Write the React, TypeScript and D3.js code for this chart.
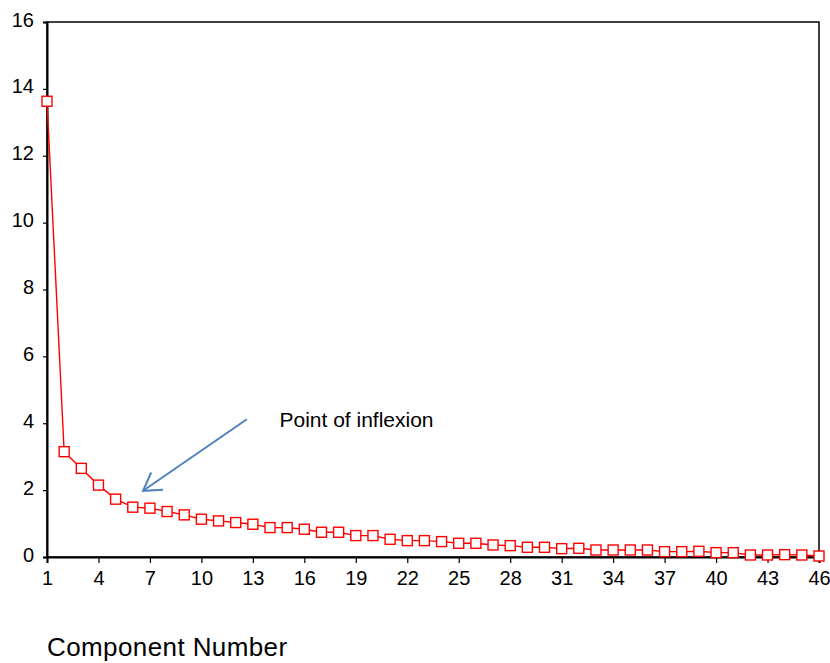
import React, { useRef, useEffect } from "react";
import { select, scaleLinear, axisBottom, axisLeft, line, range } from "d3";

// eigenvalues
const components = range(1, 47);
const eigenvalues = [
  13.63, 3.15, 2.65, 2.15, 1.73, 1.49, 1.46, 1.36, 1.26, 1.13,
  1.08, 1.03, 0.98, 0.88, 0.88, 0.83, 0.74, 0.74, 0.64, 0.64,
  0.53, 0.49, 0.49, 0.46, 0.41, 0.41, 0.36, 0.34, 0.29, 0.29,
  0.25, 0.26, 0.21, 0.21, 0.21, 0.21, 0.16, 0.16, 0.17, 0.13,
  0.13, 0.06, 0.06, 0.07, 0.06, 0.03,
];
const xTicks = [1, 4, 7, 10, 13, 16, 19, 22, 25, 28, 31, 34, 37, 40, 43, 46];
const yTicks = [0, 2, 4, 6, 8, 10, 12, 14, 16];
// arrow from the label down to the elbow, in data units
const arrowFrom = [12.65, 4.12];
const arrowTo = [6.6, 1.98];

function ScreePlot() {
  const svgRef = useRef(null);

  useEffect(() => {
    const svg = select(svgRef.current);
    svg.selectAll("*").remove();

    const width = 830;
    const height = 663;
    const margin = { top: 22, left: 47, right: 11, bottom: 106 };
    const innerWidth = width - margin.left - margin.right;
    const innerHeight = height - margin.top - margin.bottom;
    const font = "Arial, 'Liberation Sans', sans-serif";

    const xScale = scaleLinear().domain([1, 46]).range([0, innerWidth]);
    const yScale = scaleLinear().domain([0, 16]).range([innerHeight, 0]);

    const g = svg
      .append("g")
      .attr("transform", `translate(${margin.left} ${margin.top})`);

    // frame
    g.append("rect")
      .attr("width", innerWidth)
      .attr("height", innerHeight)
      .attr("fill", "none")
      .attr("stroke", "#000")
      .attr("stroke-width", 1.5);

    const xAxis = axisBottom(xScale).tickValues(xTicks).tickSize(6).tickPadding(8);
    g.append("g")
      .attr("transform", `translate(0 ${innerHeight})`)
      .call(xAxis)
      .call((a) => a.select(".domain").attr("stroke-width", 2))
      .call((a) => a.selectAll(".tick line").attr("stroke-width", 1.2))
      .call((a) =>
        a.selectAll("text").attr("font-size", 20).attr("font-family", font).attr("fill", "#000")
      );

    const yAxis = axisLeft(yScale).tickValues(yTicks).tickSize(4).tickPadding(9);
    g.append("g")
      .call(yAxis)
      .call((a) => a.select(".domain").attr("stroke-width", 2))
      .call((a) => a.selectAll(".tick line").attr("stroke-width", 1.2))
      .call((a) =>
        a.selectAll("text").attr("font-size", 20).attr("font-family", font).attr("fill", "#000").attr("dy", "0.2em")
      );

    // line
    const path = line()
      .x((d, i) => xScale(components[i]))
      .y((d) => yScale(d));

    g.append("path")
      .datum(eigenvalues)
      .attr("d", path)
      .attr("fill", "none")
      .attr("stroke", "#ff0000")
      .attr("stroke-width", 1.4);

    const size = 10;
    g.selectAll(".marker")
      .data(eigenvalues)
      .join("rect")
      .attr("class", "marker")
      .attr("x", (d, i) => xScale(components[i]) - size / 2)
      .attr("y", (d) => yScale(d) - size / 2)
      .attr("width", size)
      .attr("height", size)
      .attr("fill", "#fff")
      .attr("stroke", "#ff0000")
      .attr("stroke-width", 1.4);

    // annotation
    const x0 = xScale(arrowFrom[0]);
    const y0 = yScale(arrowFrom[1]);
    const x1 = xScale(arrowTo[0]);
    const y1 = yScale(arrowTo[1]);
    const ang = Math.atan2(y1 - y0, x1 - x0);
    const headLen = 20;
    const spread = 0.55;
    const arrow = g.append("g").attr("stroke", "#4f81bd").attr("stroke-width", 2).attr("fill", "none");
    arrow.append("line").attr("x1", x0).attr("y1", y0).attr("x2", x1).attr("y2", y1);
    arrow
      .append("path")
      .attr(
        "d",
        `M${x1 - headLen * Math.cos(ang - spread)},${y1 - headLen * Math.sin(ang - spread)}` +
          `L${x1},${y1}` +
          `L${x1 - headLen * Math.cos(ang + spread)},${y1 - headLen * Math.sin(ang + spread)}`
      );

    g.append("text")
      .attr("x", xScale(14.55))
      .attr("y", yScale(4.1))
      .attr("dy", "0.35em")
      .attr("font-size", 21)
      .attr("font-family", font)
      .text("Point of inflexion");

    svg
      .append("text")
      .attr("x", 47)
      .attr("y", 656)
      .attr("font-size", 26)
      .attr("letter-spacing", 0.4)
      .attr("font-family", font)
      .text("Component Number");
  }, []);

  return (
    <svg
      ref={svgRef}
      width={830}
      height={663}
      style={{ position: "absolute", left: 0, top: 0, background: "#fff" }}
    />
  );
}

export default function App() {
  return <ScreePlot />;
}
